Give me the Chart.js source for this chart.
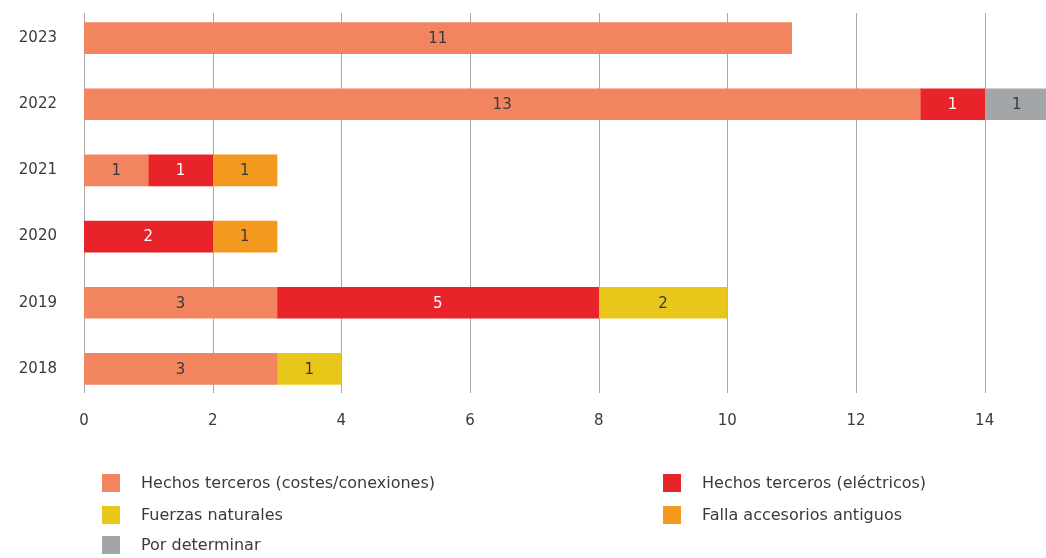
<!DOCTYPE html>
<html>
<head>
<meta charset="utf-8">
<script src="https://cdn.jsdelivr.net/npm/chart.js@4/dist/chart.umd.min.js"></script>
<style>
  html, body { margin:0; padding:0; background:#fff; overflow:hidden; width:1046px; height:558px; }
  #wrap { position:absolute; left:0; top:0; width:1049px; height:445px; }
  #legend { position:absolute; left:0; top:0; width:1046px; height:558px; pointer-events:none;
            font-family: "DejaVu Sans", sans-serif; font-size:16px; color:#3a3a3a; }
  .li { position:absolute; display:flex; align-items:center; white-space:nowrap; }
  .sw { width:18px; height:18px; margin-right:21px; flex:none; }
</style>
</head>
<body>
<div id="wrap"><canvas id="c"></canvas></div>
<div id="legend"></div>
<script>
const years = ["2023", "2022", "2021", "2020", "2019", "2018"];
const seriesNames = [
  "Hechos terceros (costes/conexiones)",
  "Hechos terceros (eléctricos)",
  "Fuerzas naturales",
  "Falla accesorios antiguos",
  "Por determinar"
];
const costesConexiones = [11, 13, 1, null, 3, 3];
const electricos       = [null, 1, 1, 2, 5, null];
const fuerzasNaturales = [null, null, null, null, 2, 1];
const accesorios       = [null, null, 1, 1, null, null];
const porDeterminar    = [null, 1, null, null, null, null];
const xTicks = [0, 2, 4, 6, 8, 10, 12, 14];

const colors = ["#F2845F", "#E8232A", "#E9C71A", "#F39A1E", "#A3A6A8"];
const labelColors = ["#3a3a3a", "#ffffff", "#3a3a3a", "#3a3a3a", "#3a3a3a"];
const seriesData = [costesConexiones, electricos, fuerzasNaturales, accesorios, porDeterminar];

const FONT = '"DejaVu Sans", sans-serif';

const gridPlugin = {
  id: 'customGrid',
  beforeDatasetsDraw(chart) {
    const {ctx, chartArea, scales} = chart;
    ctx.save();
    ctx.strokeStyle = '#a8a8a8';
    ctx.lineWidth = 1;
    xTicks.forEach(v => {
      const x = Math.round(scales.x.getPixelForValue(v)) + 0.5;
      ctx.beginPath();
      ctx.moveTo(x, chartArea.top + 8);
      ctx.lineTo(x, chartArea.bottom - 9);
      ctx.stroke();
    });
    ctx.restore();
  }
};

const labelPlugin = {
  id: 'barLabels',
  afterDatasetsDraw(chart) {
    const {ctx} = chart;
    ctx.save();
    ctx.font = '15px ' + FONT;
    ctx.textAlign = 'center';
    ctx.textBaseline = 'middle';
    chart.data.datasets.forEach((ds, di) => {
      const meta = chart.getDatasetMeta(di);
      meta.data.forEach((el, i) => {
        const v = ds.data[i];
        if (v === null || v === undefined) return;
        const p = el.getProps(['x', 'y', 'base'], true);
        ctx.fillStyle = labelColors[di];
        ctx.fillText(String(v), (p.x + p.base) / 2, p.y + 1);
      });
    });
    ctx.restore();
  }
};

new Chart(document.getElementById('c'), {
  type: 'bar',
  data: {
    labels: years,
    datasets: seriesNames.map((n, i) => ({
      label: n,
      data: seriesData[i],
      backgroundColor: colors[i],
      borderWidth: 0,
      barThickness: 31
    }))
  },
  options: {
    indexAxis: 'y',
    responsive: true,
    maintainAspectRatio: false,
    animation: false,
    layout: { padding: { top: 5, right: 0, left: 0, bottom: 0 } },
    plugins: { legend: { display: false }, tooltip: { enabled: false } },
    scales: {
      x: {
        stacked: true,
        min: 0,
        max: 15,
        grid: { display: false, drawTicks: false },
        border: { display: false },
        afterBuildTicks(axis) { axis.ticks = xTicks.map(v => ({ value: v })); },
        afterFit(axis) { axis.height = 43; axis.paddingLeft = 0; axis.paddingRight = 0; },
        ticks: { padding: 10, color: '#3a3a3a', font: { family: FONT, size: 15 } }
      },
      y: {
        stacked: true,
        grid: { display: false, drawTicks: false },
        border: { display: false },
        afterFit(axis) { axis.width = 84; axis.paddingTop = 0; axis.paddingBottom = 0; },
        ticks: { padding: 27, color: '#3a3a3a', font: { family: FONT, size: 15 } }
      }
    }
  },
  plugins: [gridPlugin, labelPlugin]
});

// HTML legend built from series arrays
const legendPos = [
  {x: 102, y: 483}, {x: 663, y: 483},
  {x: 102, y: 515}, {x: 663, y: 515},
  {x: 102, y: 545}
];
const leg = document.getElementById('legend');
seriesNames.forEach((n, i) => {
  const d = document.createElement('div');
  d.className = 'li';
  d.style.left = legendPos[i].x + 'px';
  d.style.top = (legendPos[i].y - 10) + 'px';
  d.innerHTML = '<span class="sw" style="background:' + colors[i] + '"></span><span>' + n + '</span>';
  leg.appendChild(d);
});
</script>
</body>
</html>
